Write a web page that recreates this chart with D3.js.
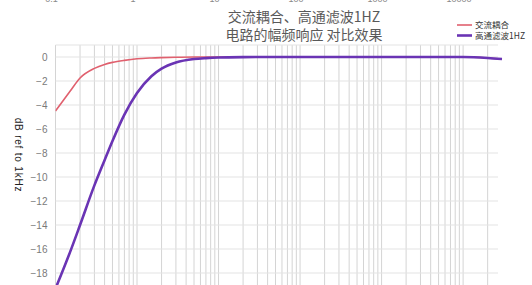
<!DOCTYPE html>
<html>
<head>
<meta charset="utf-8">
<script src="https://cdn.jsdelivr.net/npm/d3@7"></script>
<style>
  body { margin: 0; background: #fff; }
  text { font-family: "Noto Sans CJK SC", "Noto Sans", sans-serif; }
</style>
</head>
<body>
<div class="chart"></div>
<script>
(function(){
    const svgWidth = 532, svgHeight = 285;

    // data
    const freqs = [0.1, 0.15, 0.2, 0.3, 0.4, 0.5, 0.7, 1, 1.5, 2, 3, 5, 7, 10, 20, 50, 100, 1000, 10000, 20000, 30000];
    const acCoupling = [-4.5, -2.88, -1.75, -0.95, -0.62, -0.45, -0.28, -0.15, -0.08, -0.05, -0.02, 0, 0, 0, 0, 0, 0, 0, 0, -0.08, -0.17];
    const highPass1Hz = [-19.3, -16.3, -14.0, -10.7, -8.6, -7.0, -4.8, -3.0, -1.6, -0.97, -0.46, -0.17, -0.09, -0.04, -0.01, 0, 0, 0, 0, -0.08, -0.17];
    const seriesNames = ["交流耦合", "高通滤波1HZ"];
    const yTicks = [0, -2, -4, -6, -8, -10, -12, -14, -16, -18, -20];
    const topLabels = ["0.1", "1", "10", "100", "1000", "10000"];

    const margin = { top: 45, left: 55.5 };
    const plotRight = 502, plotBottom = 297;

    const svg = d3.select(".chart")
        .append("svg")
        .attr("width", svgWidth)
        .attr("height", svgHeight);

    const x = d3.scaleLog()
        .domain([0.1, 30000])
        .range([margin.left, plotRight]);

    const y = d3.scaleLinear()
        .domain([-20, 1])
        .range([plotBottom, margin.top]);

    // vertical log grid
    const vGrid = [];
    [0.1, 1, 10, 100, 1000, 10000].forEach(d => {
        for (let k = 1; k <= 9; k++) {
            const v = +(d * k).toPrecision(3);
            if (v <= 20000) vGrid.push(v);
        }
    });

    svg.append("g")
        .selectAll("line")
        .data(vGrid)
        .enter().append("line")
        .attr("x1", d => x(d)).attr("x2", d => x(d))
        .attr("y1", margin.top).attr("y2", plotBottom)
        .attr("stroke", "#d4d4d4")
        .attr("stroke-width", 1);

    // horizontal grid
    svg.append("g")
        .selectAll("line")
        .data(yTicks.concat([1]))
        .enter().append("line")
        .attr("x1", margin.left).attr("x2", 498)
        .attr("y1", d => y(d)).attr("y2", d => y(d))
        .attr("stroke", "#e3e3e3")
        .attr("stroke-width", 1);

    // y axis labels
    const yAxis = d3.axisLeft(y).tickValues(yTicks).tickSize(0).tickPadding(8);
    const yg = svg.append("g")
        .attr("transform", `translate(${margin.left},0)`)
        .call(yAxis);
    yg.select(".domain").remove();
    yg.selectAll("text")
        .attr("fill", "#7a7a7a")
        .style("font-size", "10px")
        .style("font-family", "'Liberation Sans', Arial, sans-serif");

    // top labels (mostly cut off)
    svg.append("g")
        .selectAll("text")
        .data(topLabels)
        .enter().append("text")
        .attr("x", d => x(+d) - 4)
        .attr("y", 2)
        .attr("text-anchor", "middle")
        .attr("fill", "#8a8a8a")
        .style("font-size", "9px")
        .style("font-family", "'Liberation Sans', Arial, sans-serif")
        .text(d => d);

    // lines
    svg.append("clipPath").attr("id", "plotclip")
        .append("rect")
        .attr("x", margin.left).attr("y", margin.top - 5)
        .attr("width", plotRight - margin.left + 3)
        .attr("height", plotBottom - margin.top + 5);

    const line = d3.line()
        .curve(d3.curveMonotoneX)
        .x(d => x(d[0]))
        .y(d => y(d[1]));

    const colors = ["#e0606e", "#6a34b4"];
    const widths = [1.6, 2.6];

    [acCoupling, highPass1Hz].forEach((vals, i) => {
        svg.append("path")
            .datum(freqs.map((f, j) => [f, vals[j]]))
            .attr("clip-path", "url(#plotclip)")
            .attr("fill", "none")
            .attr("stroke", colors[i])
            .attr("stroke-width", widths[i])
            .attr("stroke-linejoin", "round")
            .attr("d", line);
    });

    // title
    svg.append("text")
        .attr("x", 304).attr("y", 22)
        .attr("text-anchor", "middle")
        .attr("fill", "#595959")
        .style("font-size", "14px")
        .text("交流耦合、高通滤波1HZ");
    svg.append("text")
        .attr("x", 304).attr("y", 40)
        .attr("text-anchor", "middle")
        .attr("fill", "#595959")
        .style("font-size", "14px")
        .text("电路的幅频响应 对比效果");

    // y axis title
    svg.append("text")
        .attr("transform", "translate(15, 155) rotate(90)")
        .attr("text-anchor", "middle")
        .attr("fill", "#222")
        .style("font-size", "10px")
        .style("letter-spacing", "0.8px")
        .style("font-family", "'Liberation Sans', Arial, sans-serif")
        .text("dB ref to 1kHz");

    // legend
    const legend = svg.append("g");
    seriesNames.forEach((name, i) => {
        const ly = 25 + i * 10.5;
        legend.append("line")
            .attr("x1", 457).attr("x2", 472)
            .attr("y1", ly).attr("y2", ly)
            .attr("stroke", colors[i])
            .attr("stroke-width", widths[i]);
        legend.append("text")
            .attr("x", 475).attr("y", ly + 3)
            .attr("fill", "#333")
            .style("font-size", "8.5px")
            .text(name);
    });
})();
</script>
</body>
</html>
